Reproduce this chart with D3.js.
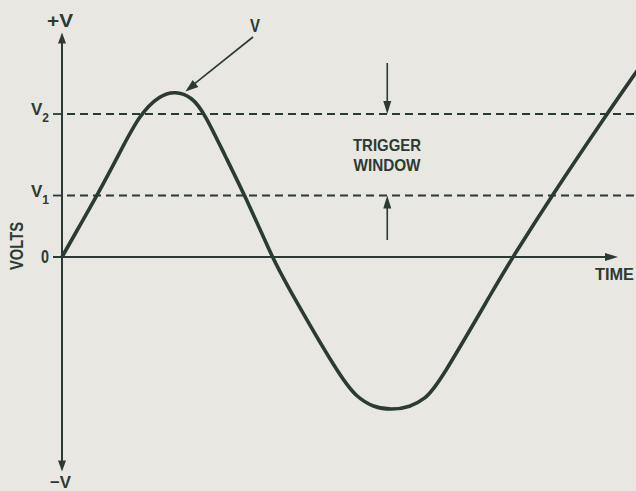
<!DOCTYPE html>
<html>
<head>
<meta charset="utf-8">
<script src="https://cdnjs.cloudflare.com/ajax/libs/d3/7.8.5/d3.min.js"></script>
<style>
  html, body { margin: 0; padding: 0; background: #e8e7e2; }
  svg { display: block; }
  text { font-family: "Liberation Sans Narrow", "Liberation Sans", Arial, sans-serif; font-weight: bold; fill: #2b3a33; }
</style>
</head>
<body>
<svg id="chart" width="636" height="491"></svg>
<script>
// waveform (time units, volts with V2 = 1)
var timeValues = [0, 0.32, 0.63, 1.04, 1.40, 1.76, 2.03, 2.34, 2.57, 2.93, 3.29, 3.78,
                  3.99, 5.00, 5.30, 5.60, 5.92, 6.26, 6.53, 6.76, 7.86, 8.11, 8.81, 9.80, 10.32, 10.58];
var voltValues = [0, 0.22, 0.43, 0.73, 1.00, 1.13, 1.16, 1.12, 1.00, 0.71, 0.43, 0,
                  -0.16, -0.84, -0.98, -1.05, -1.07, -1.05, -0.99, -0.90, -0.16, 0, 0.43, 1.00, 1.29, 1.43];

// threshold levels and axis labels
var levels = [{name: 'V', sub: '2', value: 1.0}, {name: 'V', sub: '1', value: 0.43}];
var axisTop = 1.57, axisBottom = -1.50, timeEnd = 10;

var ink = '#2b3a33';
var svg = d3.select('#chart');

var x = d3.scaleLinear().domain([0, timeEnd]).range([62, 618]);
var y = d3.scaleLinear().domain([0, 1]).range([257, 114]);

function arrowHead(px, py, angle, len, half) {
    // triangle pointing along angle (radians) with tip at px,py
    var c = Math.cos(angle), s = Math.sin(angle);
    var bx = px - c * len, by = py - s * len;
    var pts = [[px, py], [bx - s * half, by + c * half], [bx + s * half, by - c * half]];
    svg.append('path')
        .attr('d', 'M' + pts.map(function(p){ return p.join(','); }).join('L') + 'Z')
        .attr('fill', ink);
}

// threshold dashed lines
levels.forEach(function(d){
    svg.append('line')
        .attr('x1', x(0) - 9).attr('x2', x(0))
        .attr('y1', y(d.value)).attr('y2', y(d.value))
        .attr('stroke', ink).attr('stroke-width', 1.8);
    svg.append('line')
        .attr('x1', x(0) + 5).attr('x2', 640)
        .attr('y1', y(d.value)).attr('y2', y(d.value))
        .attr('stroke', ink).attr('stroke-width', 1.8)
        .attr('stroke-dasharray', '8,5');
    var t = svg.append('text')
        .attr('x', x(0) - 31).attr('y', y(d.value) + 1)
        .style('font-size', '17px');
    t.append('tspan').text(d.name);
    t.append('tspan').attr('dy', 7).style('font-size', '12px').text(d.sub);
});

// vertical axis
svg.append('line')
    .attr('x1', x(0)).attr('x2', x(0))
    .attr('y1', y(axisTop) + 8).attr('y2', y(axisBottom) - 8)
    .attr('stroke', ink).attr('stroke-width', 2);
arrowHead(x(0), y(axisTop), -Math.PI / 2, 11, 4);
arrowHead(x(0), y(axisBottom), Math.PI / 2, 11, 4);

// time axis
svg.append('line')
    .attr('x1', x(0) - 9).attr('x2', x(timeEnd) - 8)
    .attr('y1', y(0)).attr('y2', y(0))
    .attr('stroke', ink).attr('stroke-width', 2);
arrowHead(x(timeEnd), y(0), 0, 13, 4);

// waveform
var line = d3.line()
    .x(function(d){ return x(d[0]); })
    .y(function(d){ return y(d[1]); })
    .curve(d3.curveBasis);

svg.append('path')
    .datum(d3.zip(timeValues, voltValues))
    .attr('d', line)
    .attr('fill', 'none')
    .attr('stroke', ink)
    .attr('stroke-width', 3.6)
    .attr('stroke-linejoin', 'round');

// trigger window arrows
var winX = x(5.85);
svg.append('line').attr('x1', winX).attr('x2', winX)
    .attr('y1', 63).attr('y2', y(1) - 10)
    .attr('stroke', ink).attr('stroke-width', 1.6);
arrowHead(winX, y(1), Math.PI / 2, 13, 4);
svg.append('line').attr('x1', winX).attr('x2', winX)
    .attr('y1', 240).attr('y2', y(0.43) + 10)
    .attr('stroke', ink).attr('stroke-width', 1.6);
arrowHead(winX, y(0.43), -Math.PI / 2, 13, 4);

// peak callout
var peakX = x(2.22), peakY = y(1.15) - 1;
svg.append('line')
    .attr('x1', 253).attr('y1', 37)
    .attr('x2', peakX + 8).attr('y2', peakY - 7)
    .attr('stroke', ink).attr('stroke-width', 1.6);
arrowHead(peakX, peakY, Math.atan2(peakY - 37, peakX - 253), 13, 4.5);

// labels
function label(txt, px, py, size, len, anchor) {
    return svg.append('text')
        .attr('x', px).attr('y', py)
        .attr('text-anchor', anchor || 'start')
        .attr('textLength', len).attr('lengthAdjust', 'spacingAndGlyphs')
        .style('font-size', size + 'px')
        .text(txt);
}
label('+V', 47, 27, 18, 26);
label('\u2212V', 50, 488, 17, 21);
label('V', 250, 32, 18, 10);
label('0', 41, 263, 18, 8);
label('TIME', 595, 280, 17, 39);
label('TRIGGER', 387, 151, 16.5, 68, 'middle');
label('WINDOW', 387, 171, 16.5, 67, 'middle');
svg.append('text')
    .attr('transform', 'translate(23,246) rotate(-90)')
    .attr('text-anchor', 'middle')
    .attr('textLength', 48).attr('lengthAdjust', 'spacingAndGlyphs')
    .style('font-size', '19px')
    .text('VOLTS');
</script>
</body>
</html>
